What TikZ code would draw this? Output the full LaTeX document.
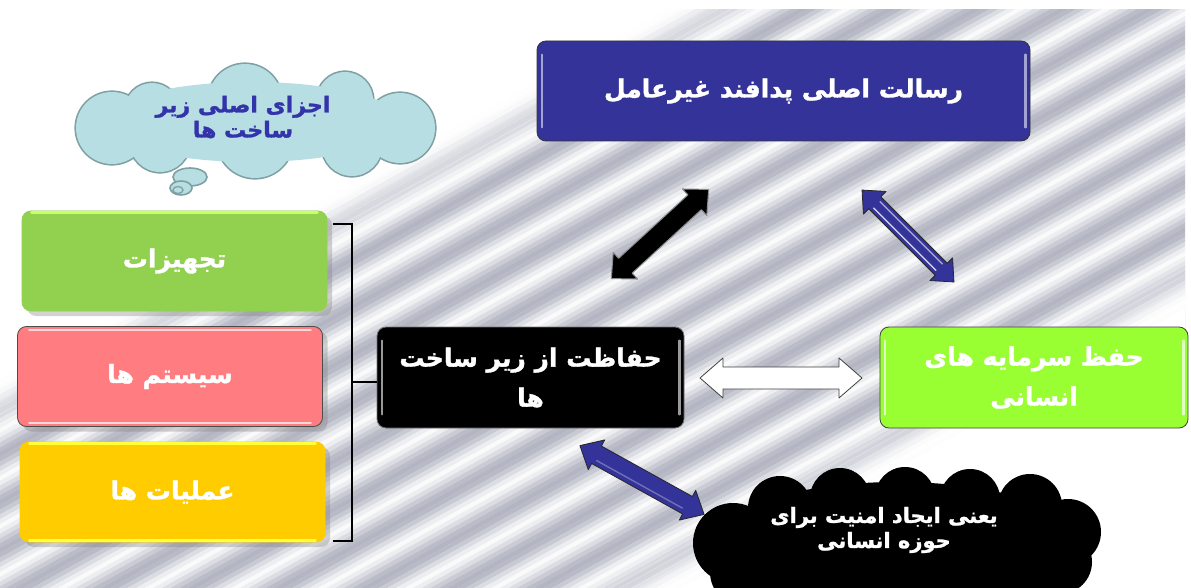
\documentclass[tikz,border=0pt]{standalone}
\usepackage{fontspec}
\newfontfamily\fa[Script=Arabic, BoldFeatures={FakeBold=1.3}]{DejaVu Sans}
\TeXXeTstate=1
\usetikzlibrary{shadows}
\definecolor{navy}{RGB}{51,51,153}
\definecolor{navytxt}{RGB}{51,51,170}
\definecolor{stripedk}{RGB}{128,132,154}
\definecolor{cloudfill}{RGB}{183,222,226}
\definecolor{clouddraw}{RGB}{127,160,162}
\definecolor{limegreen}{RGB}{153,255,51}
\definecolor{leafgreen}{RGB}{146,208,80}
\definecolor{leaftop}{RGB}{204,255,102}
\definecolor{rosepink}{RGB}{255,124,128}
\definecolor{goldyellow}{RGB}{255,204,0}
\definecolor{goldtop}{RGB}{255,255,60}
\tikzset{
  box/.style={rounded corners=9pt, line width=0.8pt, text=white, align=center,
    font=\fa\bfseries\fontsize{25}{40}\selectfont},
  sidebox/.style={box, minimum width=305pt, minimum height=100pt,
    drop shadow={opacity=0.35, shadow xshift=5pt, shadow yshift=-5pt}},
  gloss/.style={line width=2.2pt, line cap=round},
  blackarrow/.style={fill=black, draw=black!45, line width=1pt, line join=round},
  bluearrow/.style={fill=navy, draw=black!85, line width=0.8pt, line join=round},
  whitearrow/.style={fill=white, draw=black!75, line width=0.8pt, line join=round},
}
% #1 centre, #2 angle, #3 half length, #4 shaft half width, #5 head half width, #6 head length, #7 style
\newcommand{\dblarrow}[7]{%
 \begin{scope}[shift={#1}, rotate=#2]
 \draw[#7] (-#3,0) -- ({-#3+#6},#5) -- ({-#3+#6},#4) -- ({#3-#6},#4) -- ({#3-#6},#5)
   -- (#3,0) -- ({#3-#6},-#5) -- ({#3-#6},-#4) -- ({-#3+#6},-#4) -- ({-#3+#6},-#5) -- cycle;
 \end{scope}}
\newcommand{\arrgloss}[6]{%
 \begin{scope}[shift={#1}, rotate=#2]
 \draw[#6, line width=1.4pt, line cap=round] ({-#3+#5+3},#4) -- ({#3-#5-3},#4);
 \end{scope}}
\begin{document}
\begin{tikzpicture}[x=1pt,y=-1pt]
\useasboundingbox (0,0) rectangle (1191,588);
\clip (0,0) rectangle (1191,588);
\fill[white] (0,0) rectangle (1191,588);
% striped background
\begin{scope}
\clip (0,10) rectangle (1185,588);
\begin{scope}[shift={(0,380)}, rotate=29]
 \foreach \k in {0,...,12} {
   \foreach \j/\p in {0/4,1/14,2/28,3/42,4/54,5/60,6/56,7/44,8/28,9/14} {
     \fill[stripedk!\p!white] (-300, {\k*42+\j*4.2}) rectangle (1500, {\k*42+\j*4.2+4.4});
   }
 }
 \fill[white] (-300,512) rectangle (1500,900);
 \foreach \v/\o in {0/0.92,6/0.8,12/0.68,18/0.56,24/0.45,30/0.35,36/0.26,42/0.18,48/0.1,54/0.05} {
   \fill[white, opacity=\o] (-300,\v) rectangle (1500,{\v+6.2});
 }
 \foreach \v/\o in {458/0.05,464/0.12,470/0.22,476/0.34,482/0.46,488/0.58,494/0.7,500/0.82,506/0.92} {
   \fill[white, opacity=\o] (-300,\v) rectangle (1500,{\v+6.2});
 }
\end{scope}
\end{scope}

% top-left thought cloud
\draw[clouddraw, fill=cloudfill, line width=1.6pt] (190,177) ellipse [x radius=17, y radius=9];
\draw[clouddraw, fill=cloudfill, line width=1.6pt] (181,188) ellipse [x radius=11, y radius=7];
\draw[clouddraw, line width=1.3pt] (178,190) ellipse [x radius=5, y radius=3.5];
\foreach \cx/\cy/\r in {112/128/36, 152/110/27, 245/101/37, 345/100/28, 400/128/35, 352/146/30, 255/140/38, 160/142/30} {
  \draw[clouddraw, line width=3.2pt] (\cx,\cy) circle [radius=\r];
}
\fill[cloudfill] (252,122) ellipse [x radius=150, y radius=40];
\foreach \cx/\cy/\r in {112/128/36, 152/110/27, 245/101/37, 345/100/28, 400/128/35, 352/146/30, 255/140/38, 160/142/30} {
  \fill[cloudfill] (\cx,\cy) circle [radius=\r];
}
\node[text=navytxt, align=center, font=\fa\bfseries\fontsize{22}{25}\selectfont]
  (parts) at (243,117) {\beginR اجزای اصلی زیر\endR\\\beginR ساخت ها\endR};

% main boxes
\node[box, fill=navy, draw=black!80, minimum width=493pt, minimum height=100pt]
  (mission) at (783.5,91) {\beginR رسالت اصلی پدافند غیرعامل\endR};
\node[box, fill=black, draw=black!55, minimum width=307pt, minimum height=101pt]
  (infra) at (530.5,377.5) {\beginR حفاظت از زیر ساخت\endR\\\beginR ها\endR};
\node[box, fill=limegreen, draw=black!75, minimum width=308pt, minimum height=101pt]
  (human) at (1034,377.5) {\beginR حفظ سرمایه های\endR\\\beginR انسانی\endR};

% gloss lines
\foreach \n/\c in {mission/navy!45!white, infra/black!40!white, human/limegreen!30!white} {
  \draw[gloss, \c] ([xshift=5pt,yshift=-14pt]\n.north west) -- ([xshift=5pt,yshift=14pt]\n.south west);
  \draw[gloss, \c] ([xshift=-5pt,yshift=-14pt]\n.north east) -- ([xshift=-5pt,yshift=14pt]\n.south east);
}

% left boxes
\node[sidebox, fill=leafgreen, draw=leafgreen] (equip) at (174.5,261) {\beginR تجهیزات\endR};
\draw[gloss, leaftop, line width=3pt] ([xshift=10pt,yshift=-1.5pt]equip.north west) -- ([xshift=-10pt,yshift=-1.5pt]equip.north east);
\node[sidebox, fill=rosepink, draw=black!70] (systems) at (170,376.5) {\beginR سیستم ها\endR};
\draw[gloss, white!70!rosepink] ([xshift=12pt,yshift=-4pt]systems.north west) -- ([xshift=-12pt,yshift=-4pt]systems.north east);
\draw[gloss, white!70!rosepink] ([xshift=12pt,yshift=4pt]systems.south west) -- ([xshift=-12pt,yshift=4pt]systems.south east);
\node[sidebox, fill=goldyellow, draw=goldyellow] (ops) at (172.5,492) {\beginR عملیات ها\endR};
\draw[gloss, goldtop, line width=3pt] ([xshift=10pt,yshift=-1.5pt]ops.north west) -- ([xshift=-10pt,yshift=-1.5pt]ops.north east);
\draw[gloss, goldtop, line width=3pt] ([xshift=10pt,yshift=1.5pt]ops.south west) -- ([xshift=-10pt,yshift=1.5pt]ops.south east);

% bracket
\coordinate (bt) at (333,224);
\coordinate (bb) at (333,541);
\coordinate (bm) at (352,382);
\draw[line width=2.6pt, black] (bt) -- (352,224) -- (352,541) -- (bb);
\draw[line width=2.6pt, black] (bm) -- (infra.west |- bm);

% block arrows
\dblarrow{(660,234)}{42.5}{66}{10}{18}{19}{blackarrow}
\dblarrow{(908,236)}{-45}{65}{8.5}{16}{18}{bluearrow}
\arrgloss{(908,236)}{-45}{65}{4.5}{18}{white!75!navy}
\arrgloss{(908,236)}{-45}{65}{-4.5}{18}{white!55!navy}
\dblarrow{(781,378)}{0}{81}{11}{20}{23}{whitearrow}
\dblarrow{(642,480)}{-29}{71}{10}{17}{19}{bluearrow}
\arrgloss{(642,480)}{-29}{71}{5}{19}{navy!70!white}

% bottom-right black cloud
\fill[black] (897,540) ellipse [x radius=180, y radius=58];
\foreach \cx/\cy/\r in {733/543/40, 745/572/35, 780/508/32, 840/498/30, 905/497/30, 970/499/30, 1030/506/32, 1068/532/33, 1060/562/32, 1020/582/30, 950/592/30, 870/592/30, 800/588/30} {
  \fill[black] (\cx,\cy) circle [radius=\r];
}
\node[text=white, align=center, font=\fa\bfseries\fontsize{21}{25}\selectfont]
  (meaning) at (884,530) {\beginR یعنی ایجاد امنیت برای\endR\\\beginR حوزه انسانی\endR};
\end{tikzpicture}
\end{document}
